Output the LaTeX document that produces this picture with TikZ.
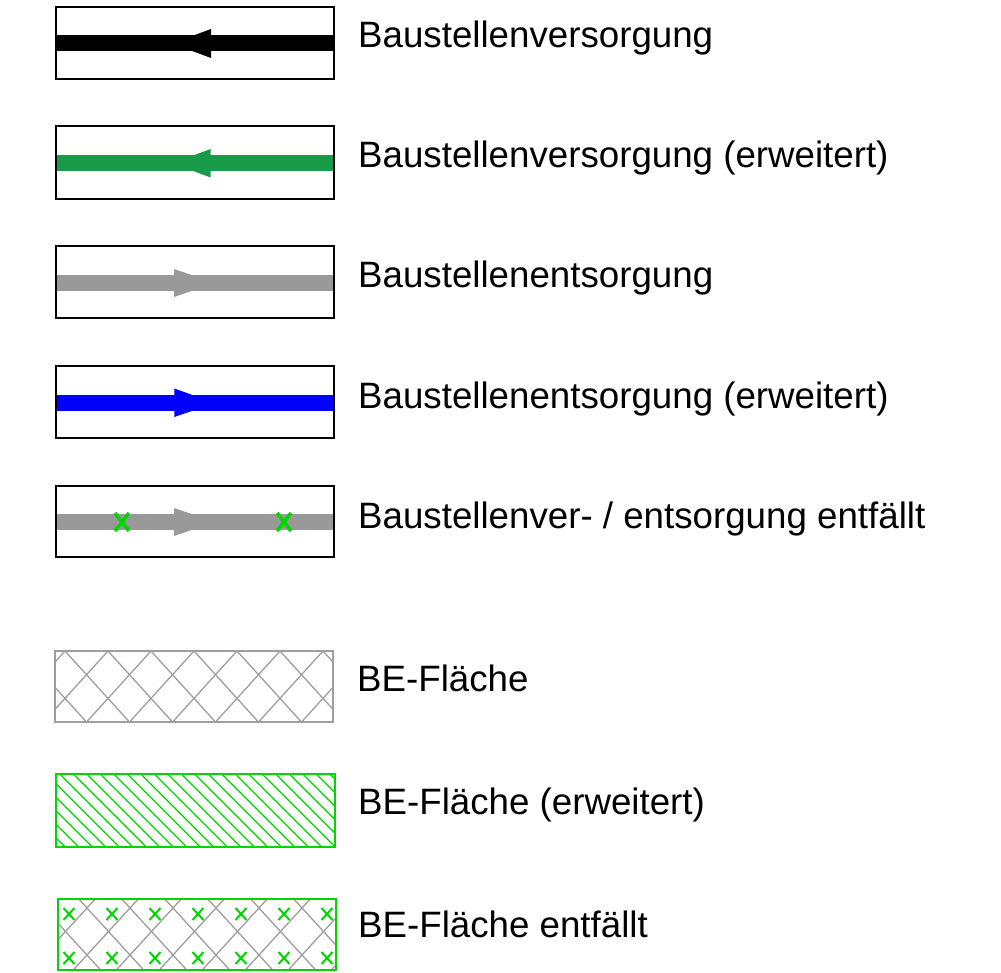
\documentclass[tikz,border=0pt]{standalone}
\usepackage{fontspec}
\setmainfont{Liberation Sans}
\definecolor{dgreen}{RGB}{24,155,72}
\definecolor{lgreen}{RGB}{0,215,0}
\definecolor{lgray}{RGB}{153,153,153}
\definecolor{hgray}{RGB}{158,158,158}
\definecolor{bblue}{RGB}{0,0,255}
\begin{document}
\begin{tikzpicture}[x=1pt,y=-1pt,
  frame/.style={draw=black,line width=2pt},
  flow/.style={line width=16pt},
  lbl/.style={anchor=base west,inner sep=0pt,font=\fontsize{36.7}{42}\selectfont},
  xbig/.style={draw=lgreen,line width=3.5pt},
  xsmall/.style={draw=lgreen,line width=2pt},
  hatchline/.style={draw=hgray,line width=1.3pt},
  ghatch/.style={draw=lgreen,line width=1.3pt}]
\useasboundingbox (0,0) rectangle (1001,973);

% --- Row 1: Baustellenversorgung (black, arrow to left)
\draw[flow,black] (56,43.5) -- (334,43.5);
\fill[black] (172,43.5) -- (211,29) -- (211,58) -- cycle;
\draw[frame] (56,7) rectangle (334,79);
\node[lbl] (l1) at (358,48) {Baustellenversorgung};

% --- Row 2: erweitert (green, arrow to left)
\draw[flow,dgreen] (56,163.3) -- (334,163.3);
\fill[dgreen] (172,163.3) -- (210.7,149) -- (210.7,177.5) -- cycle;
\draw[frame] (56,126.5) rectangle (334,199);
\node[lbl] (l2) at (358,168) {Baustellenversorgung (erweitert)};

% --- Row 3: Baustellenentsorgung (gray, arrow to right)
\draw[flow,lgray] (56,283) -- (334,283);
\fill[lgray] (215,283) -- (174,269) -- (174,297) -- cycle;
\draw[frame] (56,246) rectangle (334,318);
\node[lbl] (l3) at (358,288) {Baustellenentsorgung};

% --- Row 4: erweitert (blue, arrow to right)
\draw[flow,bblue] (56,403) -- (334,403);
\fill[bblue] (215,403) -- (174.3,388.5) -- (174.3,417) -- cycle;
\draw[frame] (56,366.5) rectangle (334,438);
\node[lbl] (l4) at (358,408) {Baustellenentsorgung (erweitert)};

% --- Row 5: entfaellt (gray with green X)
\draw[flow,lgray] (56,522) -- (334,522);
\fill[lgray] (215,522) -- (174,508) -- (174,536) -- cycle;
\foreach \cx in {122,284}{
  \draw[xbig] (\cx-7,513) -- (\cx+7,531);
  \draw[xbig] (\cx+7,513) -- (\cx-7,531);
}
\draw[frame] (56,486) rectangle (334,557);
\node[lbl] (l5) at (358,528) {Baustellenver- / entsorgung entfällt};

% --- Row 6: BE-Flaeche (gray cross hatch)
\begin{scope}
  \clip (55,651) rectangle (333,722);
  \foreach \k in {-3,...,9}{
    \draw[hatchline] ({65+43*\k-86},{651-94.7}) -- ({65+43*\k+86},{651+94.7});
    \draw[hatchline] ({65+43*\k+86},{651-94.7}) -- ({65+43*\k-86},{651+94.7});
  }
\end{scope}
\draw[draw=hgray,line width=2pt] (55,651) rectangle (333,722);
\node[lbl] (l6) at (357,691) {BE-Fläche};

% --- Row 7: BE-Flaeche (erweitert) (green diagonal hatch)
\begin{scope}
  \clip (56,774) rectangle (335,847);
  \foreach \k in {-22,...,8}{
    \draw[ghatch] (0,{700.7+13.5*\k}) -- (400,{1100.7+13.5*\k});
  }
\end{scope}
\draw[draw=lgreen,line width=2.5pt] (56,774) rectangle (335,847);
\node[lbl] (l7) at (358,814) {BE-Fläche (erweitert)};

% --- Row 8: BE-Flaeche entfaellt (gray cross hatch, green x)
\begin{scope}
  \clip (58,899) rectangle (336,970);
  \foreach \k in {-3,...,9}{
    \draw[hatchline] ({87+43*\k-86},{908-94}) -- ({87+43*\k+86},{908+94});
    \draw[hatchline] ({87+43*\k+86},{908-94}) -- ({87+43*\k-86},{908+94});
  }
\end{scope}
\foreach \cx in {69,112,155,198,241,284,327}{
  \foreach \cy in {914,958}{
    \draw[xsmall] (\cx-5.5,\cy-6) -- (\cx+5.5,\cy+6);
    \draw[xsmall] (\cx+5.5,\cy-6) -- (\cx-5.5,\cy+6);
  }
}
\draw[draw=lgreen,line width=2.5pt] (58,899) rectangle (336,970);
\node[lbl] (l8) at (358,937) {BE-Fläche entfällt};
\end{tikzpicture}
\end{document}
